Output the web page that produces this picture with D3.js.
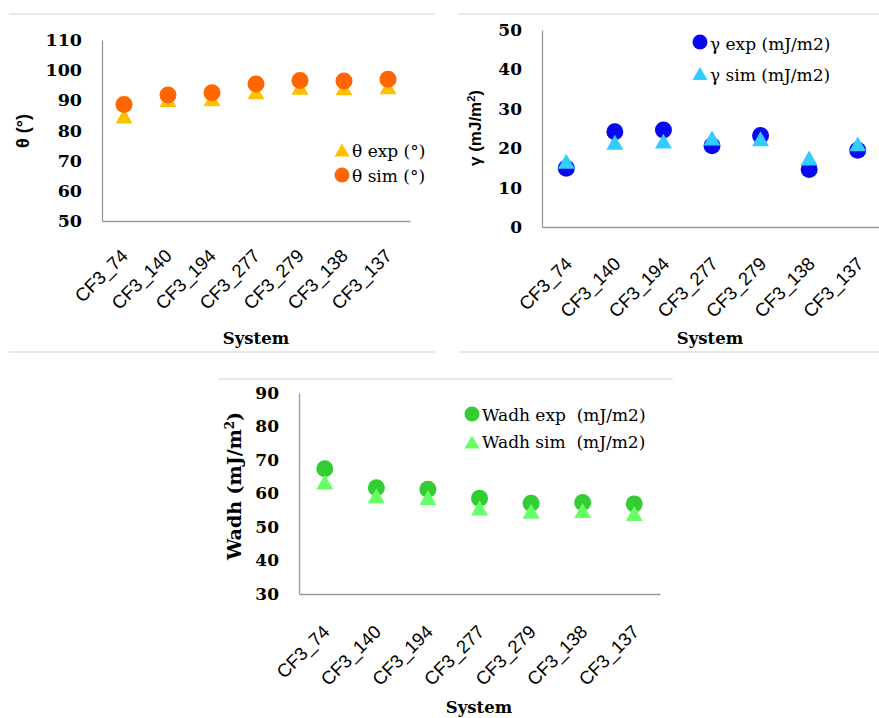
<!DOCTYPE html>
<html>
<head>
<meta charset="utf-8">
<script src="https://cdn.jsdelivr.net/npm/d3@7/dist/d3.min.js"></script>
<style>
  html, body { margin: 0; padding: 0; background: #fff; }
  svg { display: block; }
  .tick-y { font-family: "DejaVu Serif", serif; font-weight: bold; fill: #000; }
  .tick-x { font-family: "Liberation Sans", Arial, sans-serif; fill: #000; }
  .legend { font-family: "DejaVu Serif", serif; fill: #000; white-space: pre; }
  .xtitle { font-family: "DejaVu Serif", serif; font-weight: bold; fill: #000; }
</style>
</head>
<body>
<svg id="chart" width="879" height="718"></svg>
<script>
// Systems studied (shared x categories)
const systems = ["CF3_74", "CF3_140", "CF3_194", "CF3_277", "CF3_279", "CF3_138", "CF3_137"];

// Contact angle θ (°)
const thetaExp = [84.8, 90.3, 90.5, 92.8, 94.3, 94.2, 94.5];
const thetaSim = [88.6, 91.8, 92.5, 95.4, 96.6, 96.4, 97.0];
const thetaTicks = [50, 60, 70, 80, 90, 100, 110];

// Surface tension γ (mJ/m2)
const gammaExp = [14.9, 24.2, 24.6, 20.6, 23.2, 14.6, 19.5];
const gammaSim = [16.7, 21.5, 21.8, 22.6, 22.4, 17.5, 21.1];
const gammaTicks = [0, 10, 20, 30, 40, 50];

// Work of adhesion Wadh (mJ/m2)
const wadhExp = [67.4, 61.7, 61.3, 58.6, 57.1, 57.3, 56.9];
const wadhSim = [63.4, 59.3, 58.8, 55.7, 54.7, 54.9, 54.0];
const wadhTicks = [30, 40, 50, 60, 70, 80, 90];

const svg = d3.select("#chart");

// Triangle centred on its bounding box
function triPath(w, h) {
  return `M0,${-h / 2}L${w / 2},${h / 2}L${-w / 2},${h / 2}Z`;
}

function drawMarkers(g, kind, color, pts, size) {
  if (kind === "circle") {
    g.selectAll(null).data(pts).enter().append("circle")
      .attr("cx", d => d[0]).attr("cy", d => d[1])
      .attr("r", size / 2).attr("fill", color);
  } else {
    g.selectAll(null).data(pts).enter().append("path")
      .attr("d", triPath(size, size * 0.88))
      .attr("transform", d => `translate(${d[0]},${d[1]})`)
      .attr("fill", color);
  }
}

function drawPanel(p) {
  const g = svg.append("g");

  // frame lines above and below the chart
  p.frame.forEach(f => {
    g.append("line").attr("x1", f[0]).attr("x2", f[1]).attr("y1", f[2]).attr("y2", f[2])
      .attr("stroke", "#d4d4d4").attr("stroke-width", 1.2);
  });

  const x = d3.scaleBand().domain(systems).range(p.xRange);
  const y = d3.scaleLinear().domain(p.yDomain).range(p.yRange);

  // y axis
  const ya = g.append("g").attr("transform", `translate(${p.xRange[0]},0)`)
    .call(d3.axisLeft(y).tickValues(p.ticks).tickSize(0).tickPadding(p.tickPad));
  ya.select(".domain").attr("stroke", "#9a9a9a").attr("stroke-width", 1.3);
  ya.selectAll("text").attr("class", "tick-y").style("font-size", p.tickFont + "px");

  // x axis
  const xa = g.append("g").attr("transform", `translate(0,${p.yRange[0]})`)
    .call(d3.axisBottom(x).tickSize(0).tickFormat(""));
  xa.select(".domain").attr("stroke", "#9a9a9a").attr("stroke-width", 1.3);
  xa.selectAll(".tick").append("text")
    .attr("class", "tick-x")
    .attr("text-anchor", "end")
    .attr("transform", `translate(${p.labDx},${p.labDy}) rotate(-45)`)
    .style("font-size", "18.5px")
    .text(d => d);

  // series
  const cx = i => x(systems[i]) + x.bandwidth() / 2;
  p.series.forEach(s => {
    const pts = s.values.map((v, i) => [cx(i), y(v)]);
    drawMarkers(g.append("g"), s.kind, s.color, pts, 17);
  });

  // legend
  p.legend.forEach(l => {
    const s = p.series.find(q => q.name === l.name);
    drawMarkers(g.append("g"), s.kind, s.color, [[l.mx, l.my]], 15);
    g.append("text").attr("class", "legend").attr("x", l.tx).attr("y", l.ty)
      .style("font-size", p.legendFont + "px").text(s.name);
  });

  // axis titles
  g.append("text").attr("transform", `translate(${p.yTitle.x},${p.yTitle.y}) rotate(-90)`)
    .attr("text-anchor", "middle").attr("dy", "0.35em")
    .style("font-family", p.yTitle.family).style("font-weight", "bold")
    .style("font-size", p.yTitle.size + "px")
    .html(p.yTitle.html);
  g.append("text").attr("class", "xtitle").attr("x", p.xTitle[0]).attr("y", p.xTitle[1])
    .attr("text-anchor", "middle").style("font-size", "16.5px").text("System");
}

drawPanel({
  frame: [[9, 435, 14], [9, 435, 352]],
  xRange: [102, 410], yRange: [221, 40], yDomain: [50, 110], ticks: thetaTicks,
  tickPad: 20, tickFont: 17.5, labDx: 5, labDy: 36,
  series: [
    { name: "θ exp (°)", kind: "triangle", color: "#FFC000", values: thetaExp },
    { name: "θ sim (°)", kind: "circle", color: "#FF6600", values: thetaSim }
  ],
  legendFont: 17,
  legend: [
    { name: "θ exp (°)", mx: 342, my: 150, tx: 352, ty: 157 },
    { name: "θ sim (°)", mx: 342, my: 175, tx: 352, ty: 182 }
  ],
  yTitle: { x: 23, y: 131, size: 18, family: "'Liberation Sans', Arial, sans-serif", html: "θ (°)" },
  xTitle: [256, 344]
});

drawPanel({
  frame: [[458, 879, 14], [458, 879, 352]],
  xRange: [542, 882], yRange: [227, 30], yDomain: [0, 50], ticks: gammaTicks,
  tickPad: 20, tickFont: 17, labDx: 7, labDy: 38,
  series: [
    { name: "γ exp (mJ/m2)", kind: "circle", color: "#0808EE", values: gammaExp },
    { name: "γ sim (mJ/m2)", kind: "triangle", color: "#33CCFF", values: gammaSim }
  ],
  legendFont: 17,
  legend: [
    { name: "γ exp (mJ/m2)", mx: 700, my: 42, tx: 710, ty: 50 },
    { name: "γ sim (mJ/m2)", mx: 700, my: 73.5, tx: 710, ty: 81 }
  ],
  yTitle: { x: 475, y: 128, size: 17, family: "'Liberation Sans', Arial, sans-serif",
            html: "γ (mJ/m<tspan dy='-6' font-size='11'>2</tspan><tspan dy='6'>)</tspan>" },
  xTitle: [710, 344]
});

drawPanel({
  frame: [[218, 673, 379]],
  xRange: [299, 660], yRange: [594, 393], yDomain: [30, 90], ticks: wadhTicks,
  tickPad: 20, tickFont: 17, labDx: 6, labDy: 39,
  series: [
    { name: "Wadh exp  (mJ/m2)", kind: "circle", color: "#33CC33", values: wadhExp },
    { name: "Wadh sim  (mJ/m2)", kind: "triangle", color: "#66FF66", values: wadhSim }
  ],
  legendFont: 17,
  legend: [
    { name: "Wadh exp  (mJ/m2)", mx: 472, my: 414, tx: 482, ty: 421 },
    { name: "Wadh sim  (mJ/m2)", mx: 472, my: 442, tx: 482, ty: 448 }
  ],
  yTitle: { x: 234, y: 486, size: 19, family: "'DejaVu Serif', serif",
            html: "Wadh (mJ/m<tspan dy='-7' font-size='12'>2</tspan><tspan dy='7'>)</tspan>" },
  xTitle: [479, 713]
});
</script>
</body>
</html>
